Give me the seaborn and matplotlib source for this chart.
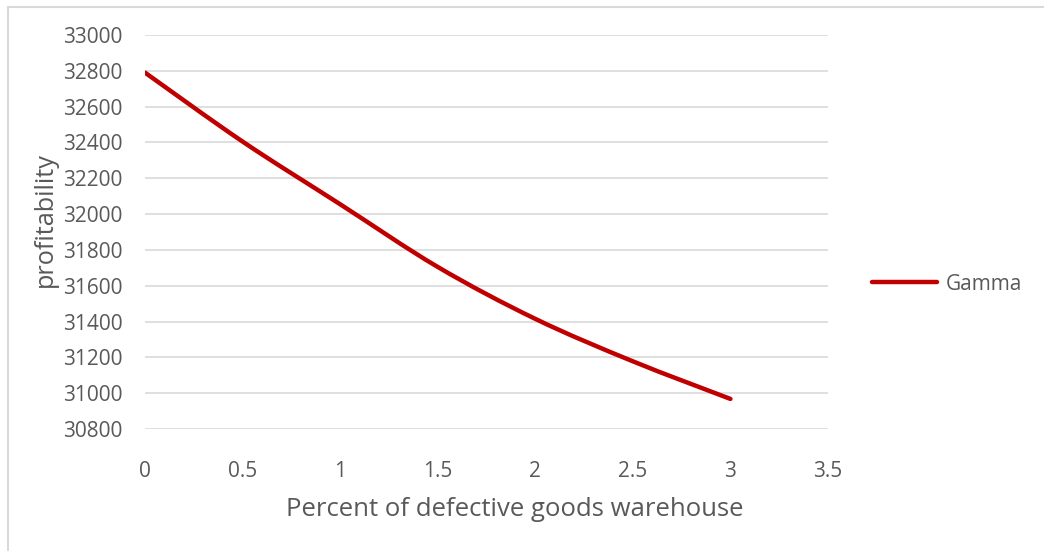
import matplotlib
matplotlib.use("Agg")
import matplotlib.pyplot as plt
import seaborn as sns
import pandas as pd
import numpy as np
from matplotlib.patches import Rectangle, PathPatch
from matplotlib.path import Path
from matplotlib.lines import Line2D

# Data
percent_defective = [0, 0.5, 1, 1.5, 2, 2.5, 3]
profitability = [32790, 32405, 32055, 31705, 31415, 31178, 30968]
series_name = "Gamma"
x_ticks = [0, 0.5, 1, 1.5, 2, 2.5, 3, 3.5]
x_tick_labels = ["0", "0.5", "1", "1.5", "2", "2.5", "3", "3.5"]
y_ticks = list(range(30800, 33001, 200))

df = pd.DataFrame({"x": percent_defective, "y": profitability, "series": series_name})

sns.set_theme(style="white")
plt.rcParams["font.family"] = ["Open Sans", "DejaVu Sans"]

TXT = "#595959"
RED = "#C00000"
fig = plt.figure(figsize=(10.44, 5.51), dpi=100)
ax = fig.add_axes([145 / 1044, 1 - 429 / 551, (828 - 145) / 1044, (429 - 35) / 551])

sns.lineplot(data=df, x="x", y="y", hue="series", palette=[RED],
             linewidth=3.2, ax=ax, legend=False)

# Render seaborn's line as a smoothed (Excel-like) Bezier curve through the same points
line = ax.lines[0]
pts = line.get_xydata()
line.set_visible(False)
n = len(pts)
verts = [tuple(pts[0])]
codes = [Path.MOVETO]
for i in range(n - 1):
    p0 = pts[max(i - 1, 0)]
    p1 = pts[i]
    p2 = pts[i + 1]
    p3 = pts[min(i + 2, n - 1)]
    c1 = p1 + (p2 - p0) / 6.0
    c2 = p2 - (p3 - p1) / 6.0
    verts += [tuple(c1), tuple(c2), tuple(p2)]
    codes += [Path.CURVE4] * 3
ax.add_patch(PathPatch(Path(verts, codes), fill=False, edgecolor=RED,
                       linewidth=3.2, capstyle="round", joinstyle="round", zorder=3))

ax.set_xlim(0, 3.5)
ax.set_ylim(30800, 33000)
ax.set_xticks(x_ticks)
ax.set_xticklabels(x_tick_labels)
ax.set_yticks(y_ticks)
ax.set_yticklabels([str(v) for v in y_ticks])
ax.yaxis.grid(True, color="#D9D9D9", linewidth=1.2)
ax.xaxis.grid(False)
for s in ax.spines.values():
    s.set_visible(False)
ax.tick_params(axis="both", length=0, labelsize=15, labelcolor=TXT)
ax.tick_params(axis="y", pad=16)
ax.tick_params(axis="x", pad=23)
ax.set_xlabel("Percent of defective goods warehouse", fontsize=18.5, color=TXT)
ax.xaxis.set_label_coords((514.5 - 145) / 683, -(509 - 429) / 394)
ax.set_ylabel("profitability", fontsize=18.2, color=TXT)
ax.yaxis.set_label_coords(-(145 - 45) / 683, (429 - 220) / 394)
ax.xaxis.label.set_va("center")
ax.yaxis.label.set_va("center")

# Legend
h = Line2D([0], [0], color=RED, linewidth=3.2, solid_capstyle="round")
fig.legend([h], [series_name], loc="center left",
           bbox_to_anchor=(872 / 1044, 1 - 284 / 551), frameon=False,
           fontsize=15, labelcolor=TXT, handlelength=3.1, handletextpad=0.42,
           borderpad=0, borderaxespad=0)

# Outer chart border
fig.patches.append(Rectangle((8 / 1044, -0.1), 1.2, 1 - 7 / 551 + 0.1,
                             transform=fig.transFigure, fill=False,
                             edgecolor="#D9D9D9", linewidth=1.5))

fig.savefig("out.png", dpi=100)
